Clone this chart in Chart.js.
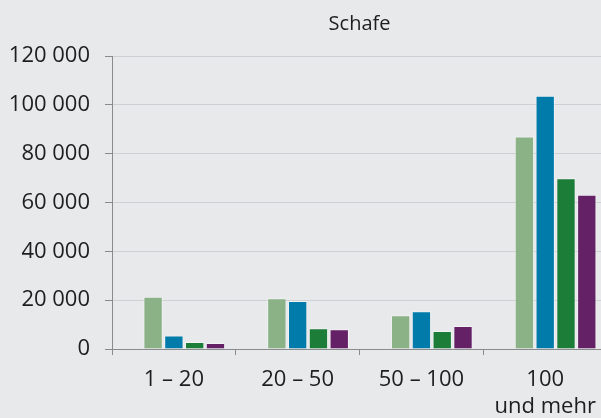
<!DOCTYPE html>
<html>
<head>
<meta charset="utf-8">
<script src="https://cdn.jsdelivr.net/npm/chart.js@4"></script>
<style>
  html, body { margin: 0; padding: 0; background: #e8e9eb; overflow: hidden; }
  #wrap { position: absolute; left: 0; top: 0; width: 608px; height: 418px; }
</style>
</head>
<body>
<div id="wrap"><canvas id="myChart"></canvas></div>
<script>
const categories = ['1 – 20', '20 – 50', '50 – 100', ['100', 'und mehr']];
const series1 = [21400, 20800, 13800, 87000];
const series2 = [5500, 19700, 15500, 103700];
const series3 = [2900, 8500, 7400, 69900];
const series4 = [2500, 8100, 9400, 63200];
// leerer Platzhalter: verschiebt die Balkengruppe nach rechts
const spacer = [null, null, null, null];
const colors = ['#8bb287', '#007baa', '#1b7d38', '#652166'];

add_bar_graph();

/**
 * 棒グラフ追加
 */
function add_bar_graph() {
  const axisColor = '#8a8b8d';
  const textColor = '#1e1e1e';
  const datasets = [{ data: spacer, backgroundColor: 'rgba(0,0,0,0)', barPercentage: 0.93, categoryPercentage: 0.84 }];
  [series1, series2, series3, series4].forEach(function(d, i) {
    datasets.push({
      data: d,
      backgroundColor: colors[i],
      borderColor: 'rgba(255, 255, 255, 0.45)',
      borderWidth: 1,
      barPercentage: 0.93,
      categoryPercentage: 0.84
    });
  });
  new Chart(
    document.getElementById('myChart').getContext('2d'),
    {
      type: 'bar',
      data: {
        labels: categories,
        datasets: datasets
      },
      options: {
        responsive: true,
        maintainAspectRatio: false,
        animation: false,
        layout: { padding: 0 },
        plugins: {
          legend: { display: false },
          tooltip: { enabled: false },
          title: {
            display: true,
            text: 'Schafe',
            fullSize: false,
            color: textColor,
            font: { family: 'Open Sans', size: 20, weight: 'normal' },
            padding: { top: 12, bottom: 20 }
          }
        },
        scales: {
          x: {
            afterFit: function(scale) { scale.height = 69; },
            border: { display: true, color: axisColor, width: 1 },
            grid: {
              offset: true,
              drawOnChartArea: false,
              drawTicks: true,
              tickLength: 6,
              tickColor: axisColor
            },
            ticks: {
              color: textColor,
              padding: 12,
              font: { family: 'Open Sans', size: 22 },
              maxRotation: 0
            }
          },
          y: {
            min: 0,
            max: 120000,
            afterFit: function(scale) { scale.width = 112; },
            border: { display: true, color: axisColor, width: 1 },
            grid: {
              color: '#cfd0d3',
              tickColor: axisColor,
              tickLength: 7
            },
            ticks: {
              stepSize: 20000,
              color: textColor,
              padding: 15,
              font: { family: 'Open Sans', size: 22 },
              callback: function(v) {
                return String(v).replace(/\B(?=(\d{3})+(?!\d))/g, ' ');
              }
            }
          }
        }
      }
    }
  );
}
</script>
</body>
</html>
